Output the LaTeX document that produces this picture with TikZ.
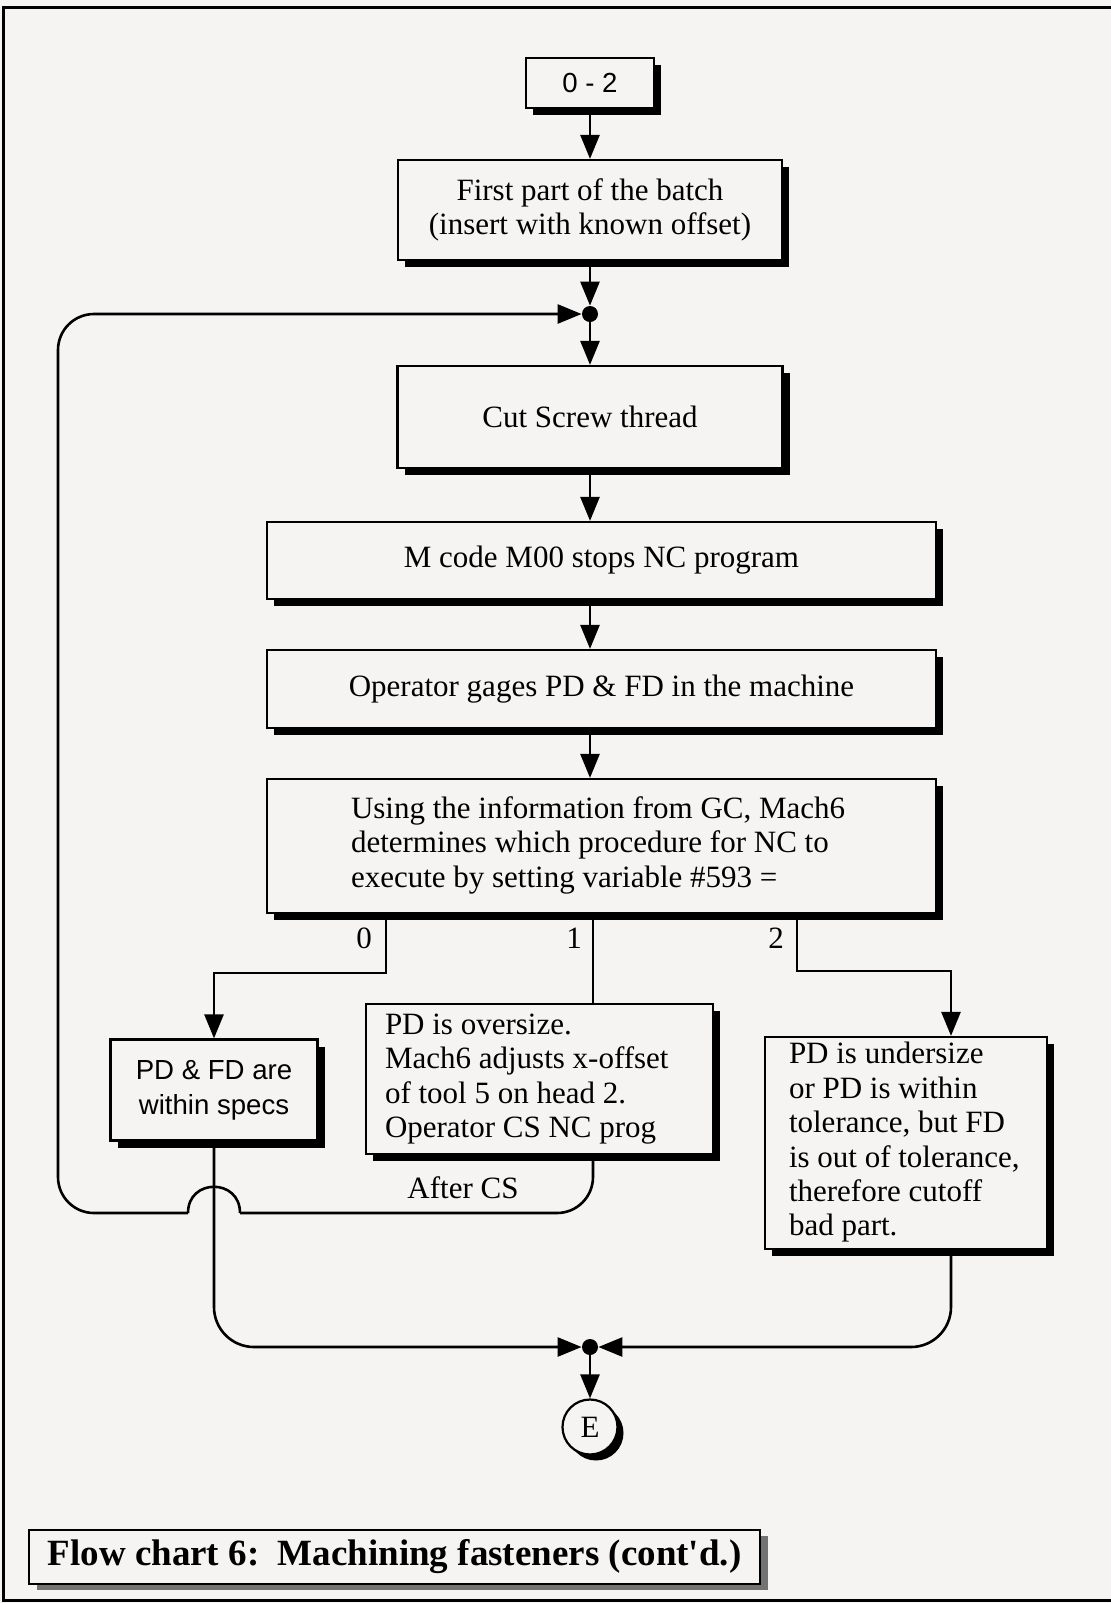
\documentclass[tikz,border=0pt]{standalone}
\usepackage{fontspec}
\setmainfont{Liberation Serif}
\setsansfont{Liberation Sans}
\usetikzlibrary{arrows.meta,shadows}
\definecolor{paper}{RGB}{245,244,242}
\newcommand\chartfont{\fontsize{15.5}{17.2}\selectfont}
\newcommand\chartsans{\fontsize{13.8}{17.4}\selectfont\sffamily}
% left-aligned block of lines in a box of fixed width
\newcommand\leftlines[2]{\makebox[#1][l]{\begin{tabular}{@{}l@{}}#2\end{tabular}}}
\begin{document}
\begin{tikzpicture}[x=0.5pt,y=-0.5pt,
  every node/.append style={font=\chartfont},
  box/.style={draw, line width=1.1pt, fill=paper, inner sep=2pt,
    drop shadow={shadow xshift=3.5pt, shadow yshift=-3.5pt, fill=black, opacity=1}},
  wire/.style={line width=1.3pt},
  arr/.style={line width=1.3pt, -{Triangle[length=12pt,width=9.5pt]}},
  dot/.style={circle, fill=black, inner sep=0pt, minimum size=8pt}]
\useasboundingbox (0,0) rectangle (1111,1603);
\fill[paper] (0,0) rectangle (1111,1603);
% page frame
\draw[line width=1.5pt] (1111,7) -- (3,7) -- (3,1600) -- (1111,1600);

% main column
\node[box, minimum width=64pt, minimum height=25pt, font=\chartsans] (start) at (590,83) {0 - 2};
\node[box, minimum width=192pt, minimum height=50pt, align=center] (first) at (590,210)
  {First part of the batch\\(insert with known offset)};
\node[dot] (j1) at (590,314) {};
\node[box, minimum width=192.5pt, minimum height=51pt] (cut) at (590,417) {Cut Screw thread};
\node[box, minimum width=334.5pt, minimum height=38.5pt] (mcode) at (601.5,560.5) {M code M00 stops NC program};
\node[box, minimum width=334.5pt, minimum height=39pt] (oper) at (601.5,689) {Operator gages PD \& FD in the machine};
\node[box, inner xsep=42pt, minimum height=67pt] (using) at (601.5,846)
  {\leftlines{250.5pt}{Using the information from GC, Mach6\\determines which procedure for NC to\\execute by setting variable \#593 =}};

% outcome boxes
\node[box, minimum width=103.5pt, minimum height=50.5pt, align=center, font=\chartsans] (within) at (214,1090)
  {PD \& FD are\\within specs};
\node[box, inner xsep=9.5pt, minimum height=75pt] (over) at (539.5,1079)
  {\leftlines{154.5pt}{PD is oversize.\\Mach6 adjusts x-offset\\of tool 5 on head 2.\\Operator CS NC prog}};
\node[box, inner xsep=12pt, inner ysep=1pt, minimum height=106pt] (under) at (906,1143)
  {\leftlines{117pt}{PD is undersize\\or PD is within\\tolerance, but FD\\is out of tolerance,\\therefore cutoff\\bad part.}};

% end connector
\node[dot] (j2) at (590,1347) {};
\node[circle, draw, line width=1.1pt, fill=paper, minimum size=27.5pt, inner sep=0pt,
  drop shadow={shadow xshift=3pt, shadow yshift=-3pt, fill=black, opacity=1}] (endc) at (590,1427) {E};

% caption
\node[draw, line width=1pt, fill=paper, minimum width=365.5pt, minimum height=27pt,
  drop shadow={shadow xshift=4pt, shadow yshift=-3pt, fill=black!55, opacity=1},
  font=\fontsize{18.5}{21}\selectfont\bfseries] (caption) at (394.5,1557)
  {Flow chart 6:\ \ Machining fasteners (cont\textquotesingle d.)};

% routing points
\coordinate (c0) at (386,973);
\coordinate (c1) at (593,1213);
\coordinate (c2) at (797,971);
\coordinate (c2b) at (951,971);
\coordinate (hopR) at (240,1213);
\coordinate (hopL) at (188,1213);
\coordinate (loopx) at (58,314);

% main flow
\draw[arr] (start.south) -- (first.north);
\draw[arr] (first.south) -- (j1.north);
\draw[arr] (j1.south) -- (cut.north);
\draw[arr] (cut.south) -- (cut.south |- mcode.north);
\draw[arr] (mcode.south -| j1) -- (oper.north -| j1);
\draw[arr] (oper.south -| j1) -- (using.north -| j1);

% branches on #593
\draw[arr] (using.south -| c0) -- (c0) -| (within.north);
\draw[wire] (using.south -| c1) -- (over.north -| c1);
\draw[arr] (using.south -| c2) -- (c2) -- (c2b) -- (under.north -| c2b);
\node (l0) at (364,938) {0};
\node (l1) at (574,938) {1};
\node (l2) at (776,938) {2};

% loop back after CS, hopping over the "within specs" line
\draw[wire, rounded corners=18pt] (over.south -| c1) -- (c1) -- (hopR);
\draw[wire] (hopR) .. controls +(0,-35) and +(0,-35) .. (hopL);
\draw[arr, rounded corners=18pt] (hopL) -| (loopx) -- (j1.west);
\node (aftercs) at (463,1188) {After CS};

% merge to end
\draw[arr, rounded corners=20pt] (within.south) |- (j2.west);
\draw[arr, rounded corners=20pt] (under.south -| c2b) |- (j2.east);
\draw[arr] (j2.south) -- (endc.north);
\end{tikzpicture}
\end{document}
